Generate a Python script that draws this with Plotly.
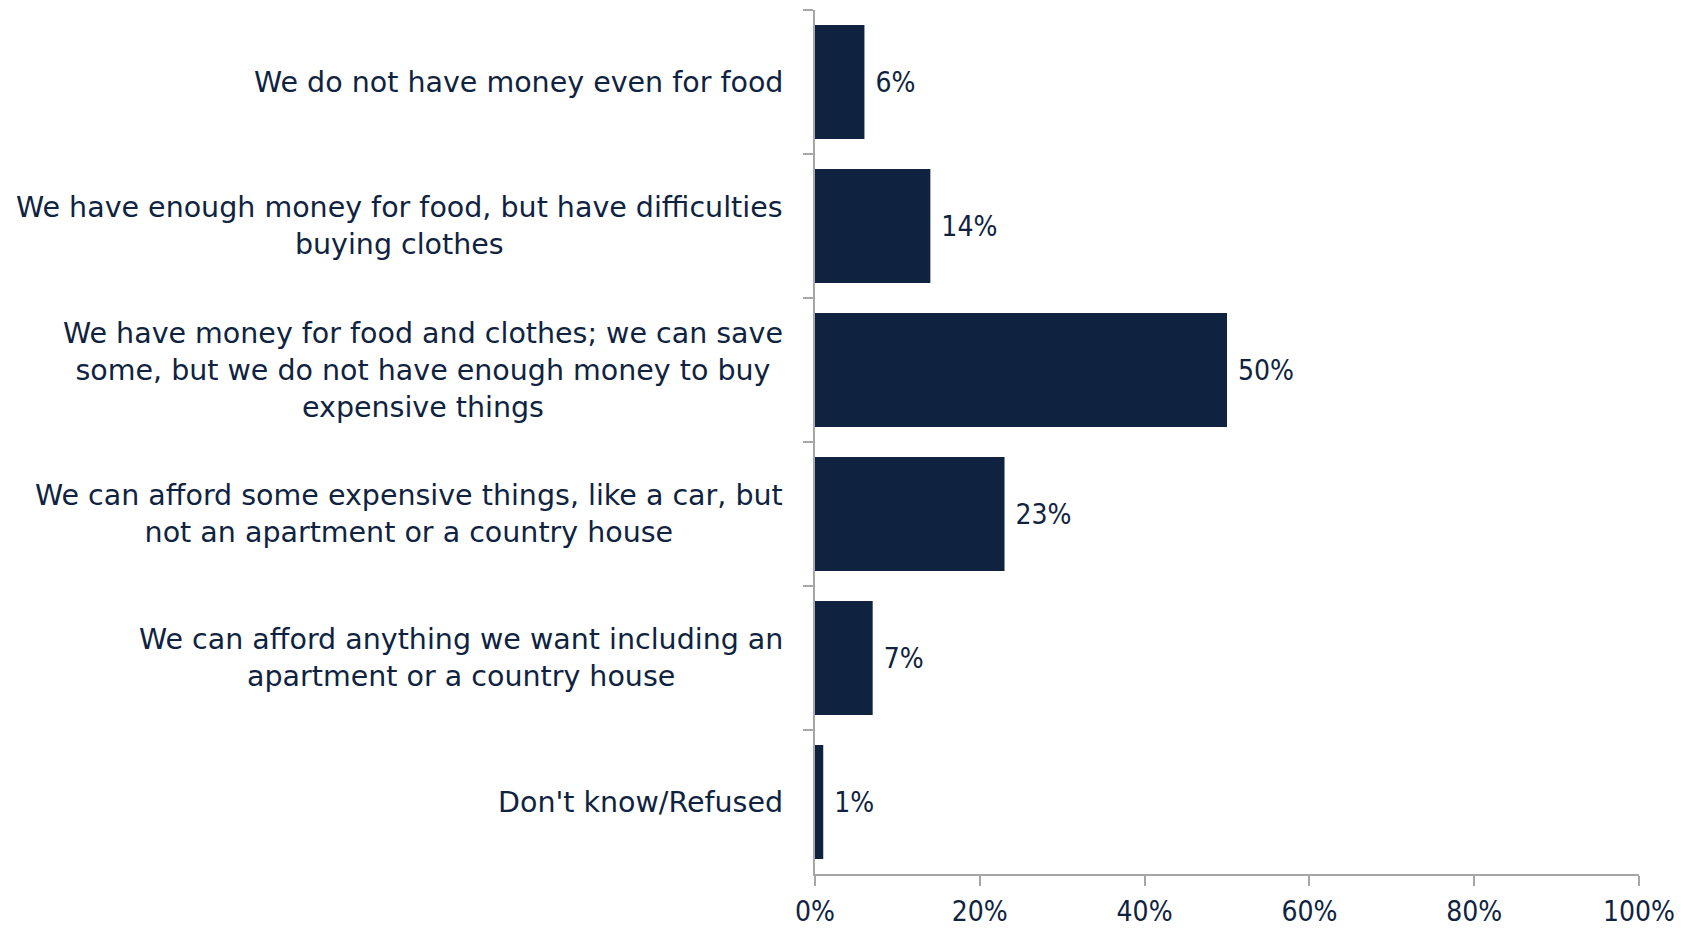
import plotly.graph_objects as go

categories = [
    "We do not have money even for food",
    "We have enough money for food, but have difficulties<br>buying clothes",
    "We have money for food and clothes; we can save<br>some, but we do not have enough money to buy<br>expensive things",
    "We can afford some expensive things, like a car, but<br>not an apartment or a country house",
    "We can afford anything we want including an<br>apartment or a country house",
    "Don't know/Refused",
]
values = [6, 14, 50, 23, 7, 1]
x_ticks = [0, 20, 40, 60, 80, 100]
x_tick_labels = ["0%", "20%", "40%", "60%", "80%", "100%"]

NAVY = "#0f2341"
GREY = "#a6a6a6"
FONT = "DejaVu Sans"
FONT_NUM = "DejaVu Sans Condensed"

ids = [f"c{i}" for i in range(len(categories))]

fig = go.Figure(go.Bar(
    x=values,
    y=ids,
    orientation="h",
    marker=dict(color=NAVY, line=dict(width=0)),
    text=[f"\u00a0{v}%" for v in values],
    textposition="outside",
    textfont=dict(family=FONT_NUM, size=28, color=NAVY),
    cliponaxis=False,
))

for cid, c in zip(ids, categories):
    fig.add_annotation(
        x=0, xref="paper", y=cid, yref="y",
        text=c, showarrow=False, xanchor="right", yanchor="middle",
        align="center", xshift=-30,
        font=dict(family=FONT, size=28.5, color=NAVY),
    )

fig.update_layout(
    width=1690, height=929,
    margin=dict(l=807, r=59, t=2, b=63),
    paper_bgcolor="white", plot_bgcolor="white",
    showlegend=False,
    bargap=0.21,
    font=dict(family=FONT, size=28, color=NAVY),
    xaxis=dict(
        range=[0, 100], tickvals=x_ticks, ticktext=x_tick_labels,
        showgrid=False, zeroline=False, automargin=False,
        showline=True, linecolor=GREY, linewidth=1.5,
        ticks="outside", ticklen=10, tickcolor=GREY, tickwidth=1.5,
        tickfont=dict(family=FONT_NUM, size=28, color=NAVY),
        ticklabelstandoff=2,
    ),
    yaxis=dict(
        type="category", categoryorder="array", categoryarray=ids,
        autorange="reversed",
        showgrid=False, zeroline=False, automargin=False,
        showline=True, linecolor=GREY, linewidth=1.5,
        ticks="outside", ticklen=10, tickcolor=GREY, tickwidth=1.5,
        tickson="boundaries", showticklabels=False,
    ),
)

fig.write_html("out.html")
